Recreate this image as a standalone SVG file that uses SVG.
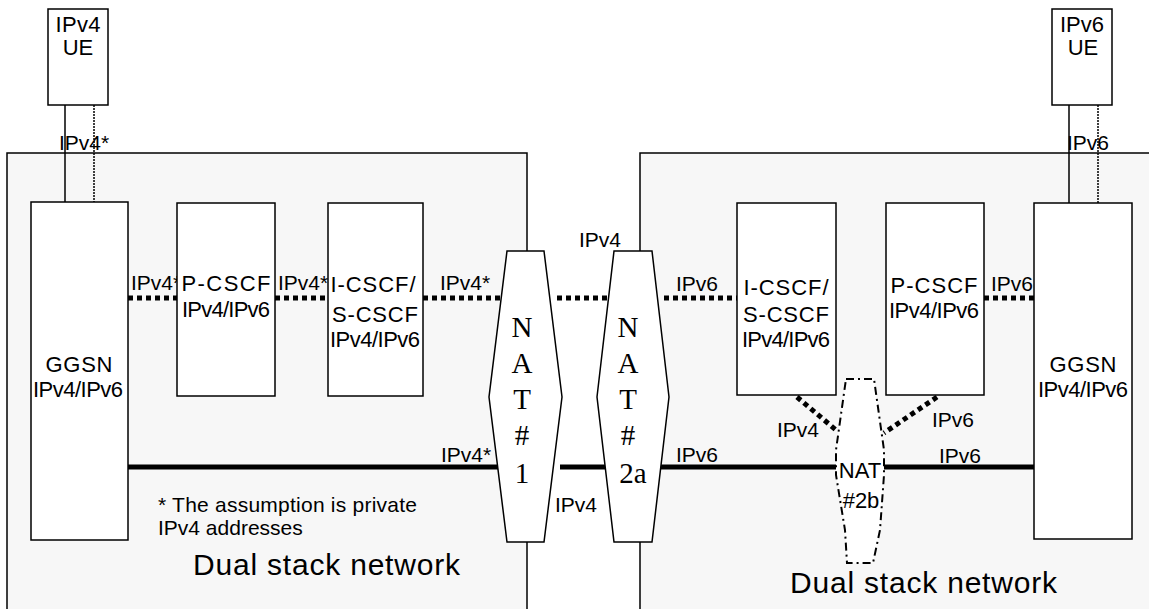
<svg xmlns="http://www.w3.org/2000/svg" width="1149" height="609" viewBox="0 0 1149 609">
<style>
.net{fill:#f7f7f7;stroke:#000;stroke-width:1.5}
.box{fill:#fff;stroke:#000;stroke-width:1.5}
.t{font-family:"Liberation Sans",Arial,sans-serif;font-size:21px;fill:#000}
.b{font-size:22px}
.m{text-anchor:middle}
.big{font-size:30px}
.nat{font-family:"Liberation Serif","Times New Roman",serif;font-size:29px;text-anchor:middle;fill:#000}
.thin{stroke:#000;stroke-width:1.5;fill:none}
.thindot{stroke:#000;stroke-width:1.5;stroke-dasharray:2 1;fill:none}
.dot{stroke:#000;stroke-width:5;stroke-dasharray:5 4;fill:none}
.solid{stroke:#000;stroke-width:5;fill:none;stroke-linecap:round}
.dd{fill:#fff;stroke:#000;stroke-width:2;stroke-dasharray:8 4 2 4}
</style>
<rect width="1149" height="609" fill="#fff"/>
<g id="network-left"><rect class="net" x="7" y="153" width="520" height="460"/>
<text class="t big" x="193" y="575" textLength="267" lengthAdjust="spacing">Dual stack network</text>
<text class="t" x="158" y="512" textLength="259" lengthAdjust="spacing">* The assumption is private</text>
<text class="t" x="158" y="535">IPv4 addresses</text></g>
<g id="network-right"><rect class="net" x="640" y="153" width="520" height="460"/>
<text class="t big" x="790" y="593" textLength="267" lengthAdjust="spacing">Dual stack network</text></g>
<g id="connectors">
<line class="thin" x1="65" y1="105" x2="65" y2="202"/>
<line class="thindot" x1="94" y1="105" x2="94" y2="202"/>
<line class="thin" x1="1069" y1="105" x2="1069" y2="203"/>
<line class="thindot" x1="1098" y1="105" x2="1098" y2="203"/>
<line class="dot" x1="128" y1="298" x2="177" y2="298"/>
<line class="dot" x1="275" y1="298" x2="328" y2="298"/>
<line class="dot" x1="423" y1="298" x2="502" y2="298"/>
<line class="dot" x1="557" y1="298" x2="611" y2="298"/>
<line class="dot" x1="664" y1="298" x2="737" y2="298"/>
<line class="dot" x1="984" y1="298" x2="1034" y2="298"/>
<line class="dot" x1="797" y1="397" x2="836" y2="430"/>
<line class="dot" x1="937" y1="397" x2="884" y2="433"/>
<line class="solid" x1="125" y1="467" x2="500" y2="467"/>
<line class="solid" x1="560" y1="467" x2="606" y2="467" style="stroke-linecap:butt"/>
<line class="solid" x1="660" y1="467" x2="836" y2="467" style="stroke-linecap:butt"/>
<line class="solid" x1="884" y1="467" x2="1034" y2="467" style="stroke-linecap:butt"/>
<text class="t" x="59" y="150">IPv4*</text>
<text class="t" x="1067" y="150">IPv6</text>
<text class="t" x="131" y="290">IPv4*</text>
<text class="t" x="278" y="290">IPv4*</text>
<text class="t" x="440" y="290">IPv4*</text>
<text class="t" x="579" y="247">IPv4</text>
<text class="t" x="676" y="291">IPv6</text>
<text class="t" x="991" y="291">IPv6</text>
<text class="t" x="441" y="462">IPv4*</text>
<text class="t" x="555" y="512">IPv4</text>
<text class="t" x="676" y="462">IPv6</text>
<text class="t" x="939" y="463">IPv6</text>
<text class="t" x="777" y="437">IPv4</text>
<text class="t" x="932" y="427">IPv6</text>
</g>
<g id="ue-ipv4"><rect class="box" x="48" y="9" width="60" height="96"/>
<text class="t b m" x="78" y="32" textLength="45" lengthAdjust="spacing">IPv4</text>
<text class="t b m" x="78" y="55">UE</text></g>
<g id="ue-ipv6"><rect class="box" x="1052" y="9" width="60" height="96"/>
<text class="t b m" x="1082" y="32">IPv6</text>
<text class="t b m" x="1083" y="55">UE</text></g>
<g id="ggsn-left"><rect class="box" x="31" y="202" width="97" height="338"/>
<text class="t b m" x="79" y="372" textLength="67" lengthAdjust="spacing">GGSN</text>
<text class="t b m" x="78" y="397" textLength="90" lengthAdjust="spacing">IPv4/IPv6</text></g>
<g id="pcscf-left"><rect class="box" x="177" y="203" width="98" height="193"/>
<text class="t b m" x="226" y="291" textLength="89" lengthAdjust="spacing">P-CSCF</text>
<text class="t b m" x="226" y="317" textLength="88" lengthAdjust="spacing">IPv4/IPv6</text></g>
<g id="icscf-left"><rect class="box" x="328" y="203" width="95" height="193"/>
<text class="t b m" x="373" y="292" textLength="85" lengthAdjust="spacing">I-CSCF/</text>
<text class="t b m" x="375" y="322" textLength="86" lengthAdjust="spacing">S-CSCF</text>
<text class="t b m" x="375" y="347" textLength="90" lengthAdjust="spacing">IPv4/IPv6</text></g>
<g id="nat1"><polygon class="box" points="507,251 544,251 562,397 544,542 507,542 489,397"/>
<text class="nat" x="522" y="337">N</text><text class="nat" x="522" y="373">A</text><text class="nat" x="522" y="409">T</text><text class="nat" x="522" y="445">#</text><text class="nat" x="522" y="483">1</text></g>
<g id="nat2a"><polygon class="box" points="614,251 652,251 669,397 652,542 614,542 597,397"/>
<text class="nat" x="628" y="337">N</text><text class="nat" x="628" y="373">A</text><text class="nat" x="628" y="409">T</text><text class="nat" x="628" y="445">#</text><text class="nat" x="633" y="483">2a</text></g>
<g id="icscf-right"><rect class="box" x="737" y="203" width="99" height="192"/>
<text class="t b m" x="786" y="295" textLength="85" lengthAdjust="spacing">I-CSCF/</text>
<text class="t b m" x="786" y="322" textLength="86" lengthAdjust="spacing">S-CSCF</text>
<text class="t b m" x="786" y="347" textLength="88" lengthAdjust="spacing">IPv4/IPv6</text></g>
<g id="pcscf-right"><rect class="box" x="886" y="203" width="98" height="192"/>
<text class="t b m" x="934" y="293" textLength="87" lengthAdjust="spacing">P-CSCF</text>
<text class="t b m" x="934" y="318" textLength="90" lengthAdjust="spacing">IPv4/IPv6</text></g>
<g id="ggsn-right"><rect class="box" x="1034" y="203" width="98" height="336"/>
<text class="t b m" x="1083" y="372" textLength="67" lengthAdjust="spacing">GGSN</text>
<text class="t b m" x="1083" y="397" textLength="90" lengthAdjust="spacing">IPv4/IPv6</text></g>
<g id="nat2b"><path class="dd" d="M846,379 L874,379 L884,450 L884,475 L880,530 L873,563 L847,563 L845,530 L836,475 L836,450 Z"/>
<text class="t b m" x="860" y="478">NAT</text>
<text class="t b m" x="861" y="508">#2b</text></g>
</svg>
